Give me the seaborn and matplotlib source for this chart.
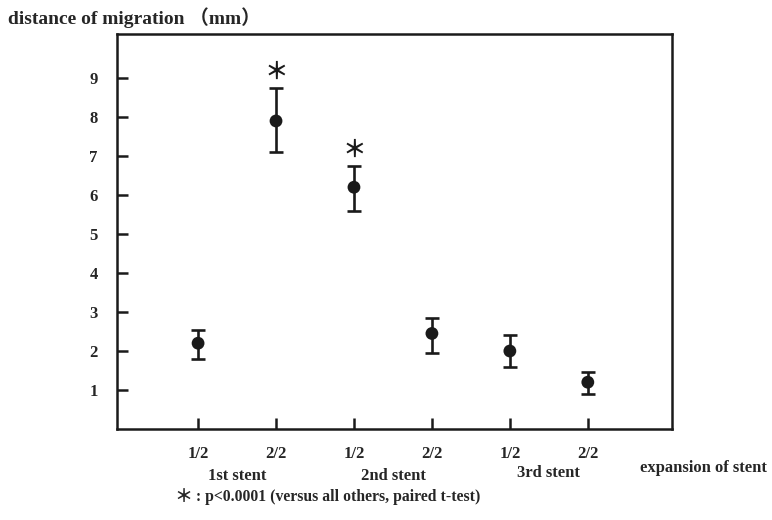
import numpy as np
import pandas as pd
import matplotlib
matplotlib.use("Agg")
import matplotlib.pyplot as plt
import matplotlib.transforms as mtransforms
import seaborn as sns

# values
positions = [1, 2, 3, 4, 5, 6]
expansion = ["1/2", "2/2", "1/2", "2/2", "1/2", "2/2"]
stents = ["1st stent", "2nd stent", "3rd stent"]
mean_mm = [2.2, 7.9, 6.2, 2.45, 2.0, 1.2]
err_low = [1.8, 7.1, 5.6, 1.95, 1.6, 0.9]
err_high = [2.55, 8.75, 6.75, 2.85, 2.4, 1.45]
signif = [False, True, True, False, False, False]
y_ticks = [1, 2, 3, 4, 5, 6, 7, 8, 9]

df = pd.DataFrame({"pos": positions, "mean": mean_mm,
                   "low": err_low, "high": err_high, "sig": signif})

sns.set_style("white")
plt.rcParams["font.family"] = ["Liberation Serif", "DejaVu Serif"]
plt.rcParams["font.weight"] = "bold"

fig = plt.figure(figsize=(7.72, 5.2), dpi=100)
ax = fig.add_axes([117 / 772, 1 - 429 / 520, (672 - 117) / 772, (429 - 34) / 520])

yerr = np.array([df["mean"] - df["low"], df["high"] - df["mean"]])
ax.errorbar(df["pos"], df["mean"], yerr=yerr, fmt="none", ecolor="#1a1a1a",
            elinewidth=1.9, capsize=5, capthick=1.9, zorder=2)
sns.scatterplot(data=df, x="pos", y="mean", ax=ax, color="#1a1a1a",
                s=85, edgecolor="none", zorder=3, legend=False)

for _, r in df[df["sig"]].iterrows():
    ax.text(r["pos"], r["high"] + 0.42, "＊", ha="center", va="center",
            fontsize=17, family=["Noto Sans CJK JP", "DejaVu Sans"],
            fontweight="bold", color="#1a1a1a")

ax.set_xlim(-0.04, 7.08)
ax.set_ylim(0, 10.13)
ax.set_xticks(positions)
ax.set_xticklabels(expansion, fontsize=12, fontweight="bold")
ax.set_yticks(y_ticks)
ax.set_yticklabels([str(t) for t in y_ticks], fontsize=12, fontweight="bold")
ax.tick_params(axis="both", direction="in", length=8, width=1.8,
               color="#1a1a1a", bottom=True, left=True)
ax.tick_params(axis="x", pad=12)
ax.tick_params(axis="y", pad=14)
ax.set_xlabel("")
ax.set_ylabel("")
for s in ax.spines.values():
    s.set_visible(True)
    s.set_linewidth(1.8)
    s.set_color("#1a1a1a")

# group labels under the tick labels
trans = mtransforms.blended_transform_factory(ax.transData, ax.transAxes)
for i, name in enumerate(stents):
    ax.text(positions[2 * i] + 0.5, -0.118 if i < 2 else -0.112, name,
            ha="center", va="center", fontsize=12, fontweight="bold",
            transform=trans, clip_on=False)

fig.text(8 / 772, 1 - 18 / 520, "distance of migration （mm）", ha="left",
         va="center", fontsize=14, fontweight="bold",
         family=["Liberation Serif", "Noto Sans CJK JP"])
fig.text(640 / 772, 1 - 468 / 520, "expansion of stent", ha="left",
         va="center", fontsize=12, fontweight="bold")
fig.text(174 / 772, 1 - 496 / 520, "＊", ha="left", va="center", fontsize=13,
         family=["Noto Sans CJK JP", "DejaVu Sans"], fontweight="bold")
fig.text(196 / 772, 1 - 497 / 520, ": p<0.0001 (versus all others, paired t-test)",
         ha="left", va="center", fontsize=11.3, fontweight="bold")

fig.savefig("out.png", dpi=100)
